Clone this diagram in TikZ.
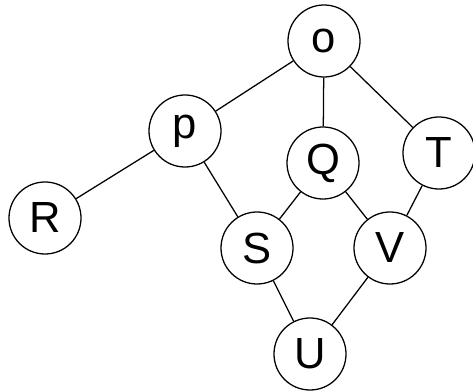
\documentclass[tikz,border=0pt]{standalone}
\usepackage{fontspec}
\setmainfont{Liberation Sans}
\begin{document}
\begin{tikzpicture}[x=0.025cm,y=-0.025cm,
  vertex/.style={draw,circle,line width=0.9pt,minimum size=1.8cm,inner sep=0pt,
    font=\fontsize{31}{34}\selectfont},
  edge/.style={line width=0.9pt}]
 \useasboundingbox (0,0) rectangle (473,392);
 \node[vertex] (o) at (324,41) {o};
 \node[vertex] (p) at (185,131) {p};
 \node[vertex] (Q) at (323,163) {Q};
 \node[vertex] (T) at (439,153) {T};
 \node[vertex] (R) at (45,218) {R};
 \node[vertex] (S) at (257,248) {S};
 \node[vertex] (V) at (390,248) {V};
 \node[vertex] (U) at (310,354) {U};
 \draw[edge] (o) -- (p);
 \draw[edge] (o) -- (Q);
 \draw[edge] (o) -- (T);
 \draw[edge] (p) -- (R);
 \draw[edge] (p) -- (S);
 \draw[edge] (Q) -- (S);
 \draw[edge] (Q) -- (V);
 \draw[edge] (T) -- (V);
 \draw[edge] (S) -- (U);
 \draw[edge] (V) -- (U);
\end{tikzpicture}
\end{document}
